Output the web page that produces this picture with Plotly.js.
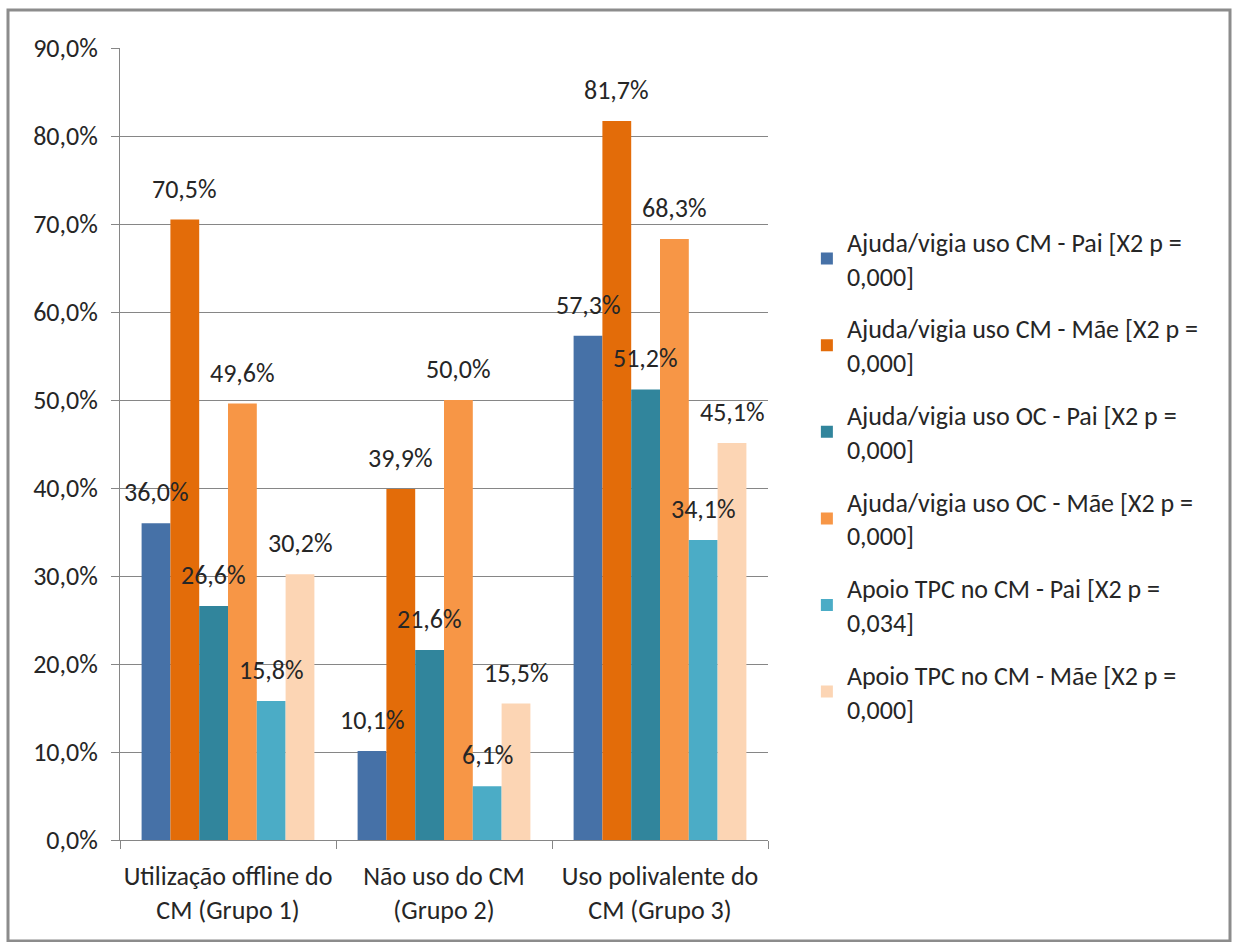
<!DOCTYPE html>
<html>
<head>
<meta charset="utf-8">
<script src="https://cdn.plot.ly/plotly-3.0.1.min.js"></script>
<style>
  html, body { margin: 0; padding: 0; background: #ffffff; }
  #chart { width: 1235px; height: 942px; }
</style>
</head>
<body>
<div id="chart"></div>
<script>
const categories = [
  "Utilização offline do<br>CM (Grupo 1)",
  "Não uso do CM<br>(Grupo 2)",
  "Uso polivalente do<br>CM (Grupo 3)"
];
const seriesNames = [
  "Ajuda/vigia uso CM - Pai [X2 p =<br>0,000]",
  "Ajuda/vigia uso CM - Mãe [X2 p =<br>0,000]",
  "Ajuda/vigia uso OC - Pai [X2 p =<br>0,000]",
  "Ajuda/vigia uso OC - Mãe [X2 p =<br>0,000]",
  "Apoio TPC no CM - Pai [X2 p =<br>0,034]",
  "Apoio TPC no CM - Mãe [X2 p =<br>0,000]"
];
const cmPai = [36.0, 10.1, 57.3];
const cmMae = [70.5, 39.9, 81.7];
const ocPai = [26.6, 21.6, 51.2];
const ocMae = [49.6, 50.0, 68.3];
const tpcPai = [15.8, 6.1, 34.1];
const tpcMae = [30.2, 15.5, 45.1];
const seriesValues = [cmPai, cmMae, ocPai, ocMae, tpcPai, tpcMae];
const colors = ["#4671A7", "#E36C09", "#31859C", "#F79646", "#4BACC6", "#FCD5B4"];

const FONT = "Carlito, Lato, 'Open Sans', sans-serif";
const TXT = "#262626";
const FS = 26;

const traces = seriesValues.map((vals, i) => ({
  type: "bar",
  name: seriesNames[i],
  x: categories,
  y: vals,
  marker: { color: colors[i] },
  legendgroup: "g" + i,
  hoverinfo: "skip"
}));

// data labels above bars, offset like the original
const plotW = 648;
const catW = plotW / categories.length;
const bargap = 0.2;
const barW = catW * (1 - bargap) / seriesValues.length;
const annotations = [];
seriesValues.forEach((vals, i) => {
  vals.forEach((v, j) => {
    annotations.push({
      x: categories[j], y: v, xref: "x", yref: "y",
      xshift: (i - (seriesValues.length - 1) / 2) * barW,
      yshift: 31,
      text: v.toFixed(1).replace(".", ",") + "%",
      showarrow: false,
      xanchor: "center", yanchor: "middle",
      font: { family: FONT, size: FS, color: TXT }
    });
  });
});

const layout = {
  width: 1235, height: 942,
  margin: { l: 120, r: 467, t: 48, b: 102 },
  paper_bgcolor: "#ffffff",
  plot_bgcolor: "#ffffff",
  font: { family: FONT, size: FS, color: TXT },
  separators: ",.",
  barmode: "group",
  bargap: bargap,
  bargroupgap: 0,
  showlegend: true,
  legend: {
    x: 1.060, xanchor: "left",
    y: 0.785, yanchor: "top",
    font: { family: FONT, size: FS, color: TXT },
    tracegroupgap: 16,
    itemwidth: 30,
    bgcolor: "rgba(0,0,0,0)"
  },
  xaxis: {
    type: "category",
    showline: true, linecolor: "#868686", linewidth: 1,
    ticks: "outside", tickson: "boundaries", ticklen: 8, tickcolor: "#868686",
    tickfont: { family: FONT, size: FS, color: TXT },
    tickangle: 0,
    ticklabelstandoff: 13,
    showgrid: false,
    fixedrange: true
  },
  yaxis: {
    range: [0, 90],
    dtick: 10, tick0: 0,
    tickformat: ".1f", ticksuffix: "%",
    showline: true, linecolor: "#868686", linewidth: 1,
    ticks: "outside", ticklen: 8, tickcolor: "#868686",
    ticklabelstandoff: 8,
    showgrid: true, gridcolor: "#868686", gridwidth: 1,
    zeroline: false,
    tickfont: { family: FONT, size: FS, color: TXT },
    fixedrange: true
  },
  annotations: annotations,
  shapes: [{
    type: "rect", xref: "paper", yref: "paper",
    x0: (8 - 120) / 648, x1: (1230 - 120) / 648,
    y0: (840 - 941) / 792, y1: (840 - 10) / 792,
    line: { color: "#8C8C8C", width: 3 },
    fillcolor: "rgba(0,0,0,0)",
    layer: "below"
  }]
};

Plotly.newPlot("chart", traces, layout, { displayModeBar: false, staticPlot: true });
</script>
</body>
</html>
